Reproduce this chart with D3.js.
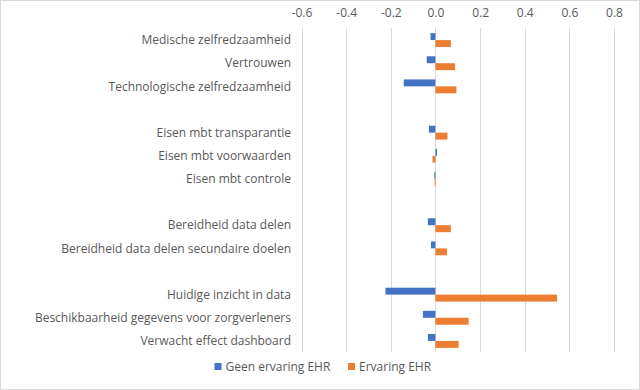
<!DOCTYPE html>
<html>
<head>
<meta charset="utf-8">
<script src="https://cdn.jsdelivr.net/npm/d3@7"></script>
<style>
  html, body { margin: 0; padding: 0; background: #fff; }
  svg { display: block; }
  text { font-family: "Open Sans", "Noto Sans", sans-serif; fill: #595959; }
</style>
</head>
<body>
<svg id="chart" width="640" height="390"></svg>
<script>
const categories = [
  "Medische zelfredzaamheid",
  "Vertrouwen",
  "Technologische zelfredzaamheid",
  "",
  "Eisen mbt transparantie",
  "Eisen mbt voorwaarden",
  "Eisen mbt controle",
  " ",
  "Bereidheid data delen",
  "Bereidheid data delen secundaire doelen",
  "  ",
  "Huidige inzicht in data",
  "Beschikbaarheid gegevens voor zorgverleners",
  "Verwacht effect dashboard"
];
const seriesNames = ["Geen ervaring EHR", "Ervaring EHR"];
const geenErvaring = [-0.022, -0.039, -0.142, null, -0.029, 0.007, -0.005, null, -0.034, -0.020, null, -0.224, -0.056, -0.034];
const ervaring     = [0.069, 0.088, 0.094, null, 0.054, -0.013, -0.004, null, 0.069, 0.052, null, 0.545, 0.149, 0.104];
const tickValues = [-0.6, -0.4, -0.2, 0.0, 0.2, 0.4, 0.6, 0.8];
const colors = ["#4472C4", "#ED7D31"];

const svg = d3.select("#chart");

// chart border
svg.append("rect").attr("x", 0.5).attr("y", 0.5).attr("width", 639).attr("height", 389)
  .attr("fill", "#fff").attr("stroke", "#d9d9d9");

const x = d3.scaleLinear().domain([-0.6, 0.8]).range([301.5, 614]);
const y = d3.scaleBand().domain(categories).range([28.5, 352.5]).paddingInner(0.4).paddingOuter(0.2);
const ySub = d3.scaleBand().domain(seriesNames).range([0, y.bandwidth()]);

// gridlines
svg.append("g").selectAll("line").data(tickValues).join("line")
  .attr("x1", d => Math.round(x(d)) + 0.5).attr("x2", d => Math.round(x(d)) + 0.5)
  .attr("y1", 28).attr("y2", 352.5)
  .attr("stroke", "#d9d9d9").attr("stroke-width", 1);

// top axis
const fmt = d => d.toFixed(1).replace("−", "-");
const axis = d3.axisTop(x).tickValues(tickValues).tickFormat(fmt).tickSize(0).tickPadding(0);
const gAxis = svg.append("g").attr("transform", "translate(0,17)").call(axis);
gAxis.select(".domain").remove();
gAxis.selectAll("text").attr("font-size", 12).style("font-family", "'Open Sans', sans-serif").attr("fill", "#595959");

// bars
const series = [geenErvaring, ervaring];
series.forEach((vals, si) => {
  svg.append("g").selectAll("rect")
    .data(categories.map((c, i) => ({ c, v: vals[i] })).filter(d => d.v !== null))
    .join("rect")
    .attr("x", d => Math.min(x(0), x(d.v)))
    .attr("width", d => Math.max(1, Math.abs(x(d.v) - x(0))))
    .attr("y", d => y(d.c) + ySub(seriesNames[si]))
    .attr("height", ySub.bandwidth())
    .attr("fill", colors[si]);
});

// category labels
svg.append("g").selectAll("text").data(categories.filter(c => c.trim() !== "")).join("text")
  .attr("x", 291)
  .attr("y", d => y(d) + y.bandwidth() / 2)
  .attr("dy", "0.35em")
  .attr("text-anchor", "end")
  .attr("font-size", 12)
  .text(d => d);

// legend
const legendX = [214.5, 348];
const legend = svg.append("g");
seriesNames.forEach((name, i) => {
  legend.append("rect").attr("x", legendX[i]).attr("y", 363).attr("width", 7).attr("height", 7).attr("fill", colors[i]);
  legend.append("text").attr("x", legendX[i] + 11).attr("y", 366.5).attr("dy", "0.35em")
    .attr("font-size", 12).text(name);
});
</script>
</body>
</html>
